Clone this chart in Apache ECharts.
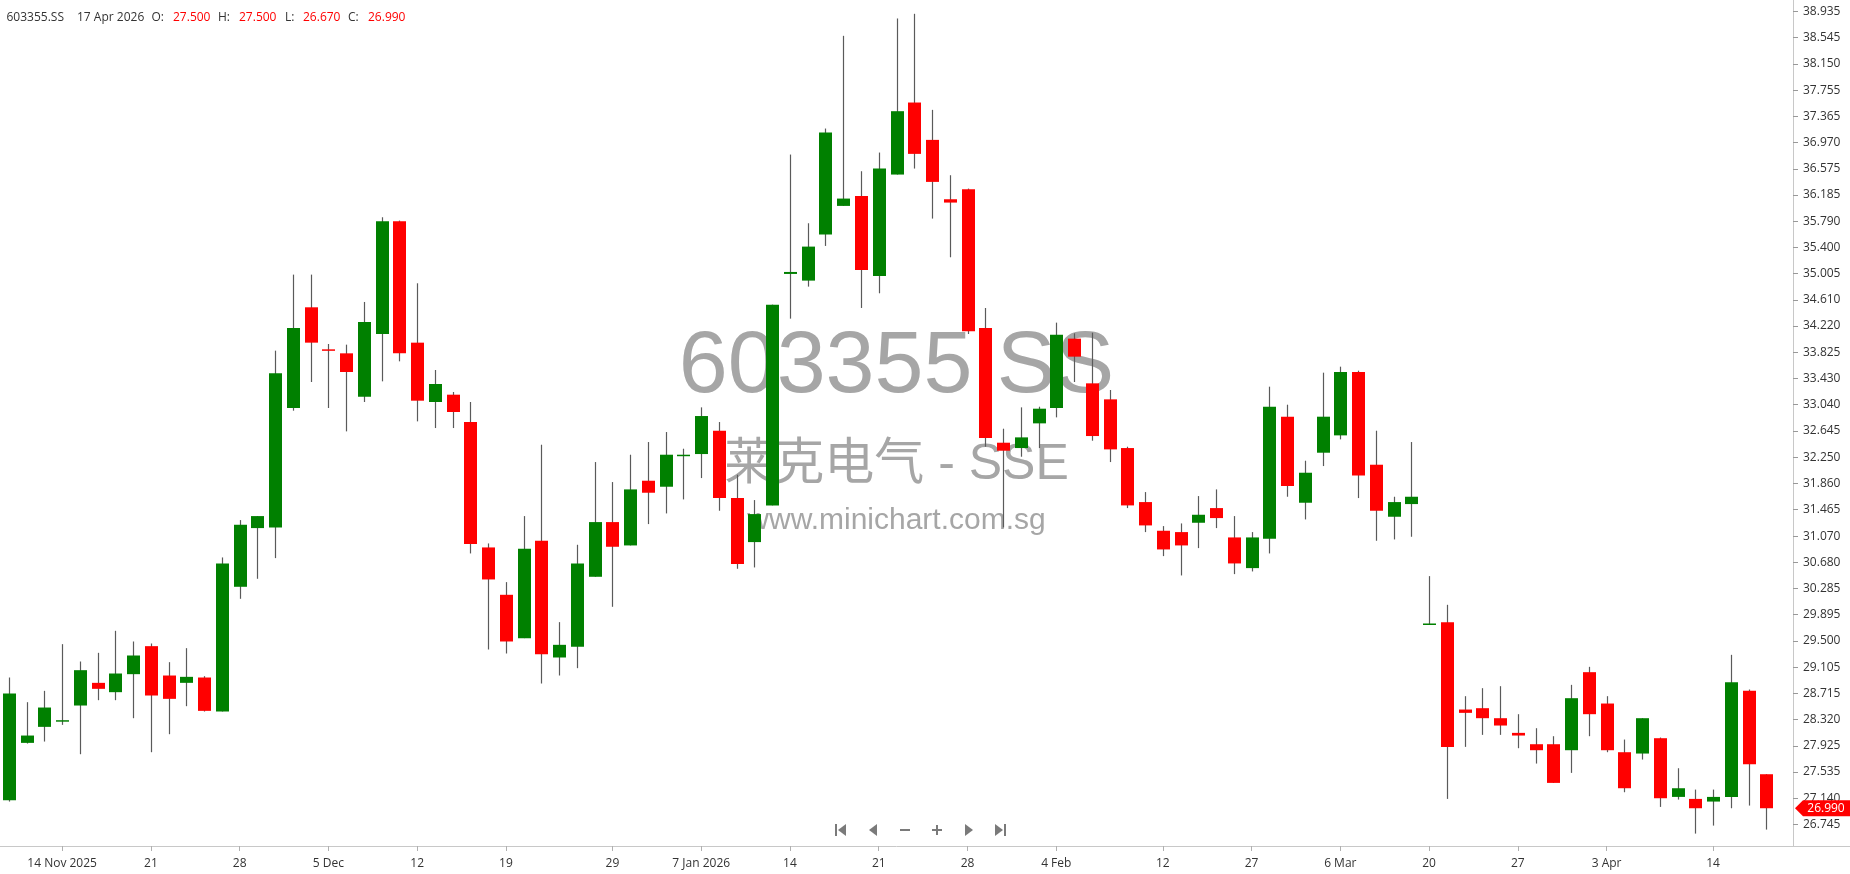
<!DOCTYPE html>
<html><head><meta charset="utf-8">
<script src="https://cdn.jsdelivr.net/npm/echarts@6/dist/echarts.min.js"></script>
<style>html,body{margin:0;padding:0;background:#fff}#c{width:1850px;height:874px}</style>
</head><body><div id="c"></div>
<script>
const ticker = '603355.SS';
const companyName = '莱克电气 - SSE';
const siteName = 'www.minichart.com.sg';

const dates = [
'2025-11-11','2025-11-12','2025-11-13','2025-11-14','2025-11-17','2025-11-18','2025-11-19','2025-11-20','2025-11-21','2025-11-24',
'2025-11-25','2025-11-26','2025-11-27','2025-11-28','2025-12-01','2025-12-02','2025-12-03','2025-12-04','2025-12-05','2025-12-08',
'2025-12-09','2025-12-10','2025-12-11','2025-12-12','2025-12-15','2025-12-16','2025-12-17','2025-12-18','2025-12-19','2025-12-22',
'2025-12-23','2025-12-24','2025-12-25','2025-12-26','2025-12-29','2025-12-30','2025-12-31','2026-01-05','2026-01-06','2026-01-07',
'2026-01-08','2026-01-09','2026-01-12','2026-01-13','2026-01-14','2026-01-15','2026-01-16','2026-01-19','2026-01-20','2026-01-21',
'2026-01-22','2026-01-23','2026-01-26','2026-01-27','2026-01-28','2026-01-29','2026-01-30','2026-02-02','2026-02-03','2026-02-04',
'2026-02-05','2026-02-06','2026-02-09','2026-02-10','2026-02-11','2026-02-12','2026-02-13','2026-02-24','2026-02-25','2026-02-26',
'2026-02-27','2026-03-02','2026-03-03','2026-03-04','2026-03-05','2026-03-06','2026-03-09','2026-03-10','2026-03-11','2026-03-12',
'2026-03-20','2026-03-23','2026-03-24','2026-03-25','2026-03-26','2026-03-27','2026-03-30','2026-03-31','2026-04-01','2026-04-02',
'2026-04-03','2026-04-07','2026-04-08','2026-04-09','2026-04-10','2026-04-13','2026-04-14','2026-04-15','2026-04-16','2026-04-17'
];

const opens = [
27.11,27.97,28.21,28.29,28.53,28.87,28.73,29.00,29.42,28.98,
28.87,28.95,28.44,30.31,31.19,31.20,32.99,34.50,33.87,33.81,
33.16,34.10,35.79,33.97,33.08,33.19,32.78,30.90,30.19,29.54,
31.00,29.25,29.41,30.46,31.28,30.93,31.90,31.81,32.27,32.30,
32.65,31.64,30.98,31.53,35.00,34.90,35.59,36.02,36.17,34.97,
36.49,37.57,37.01,36.12,36.27,34.19,32.47,32.39,32.76,32.99,
34.03,33.36,33.12,32.39,31.58,31.15,31.13,31.27,31.49,31.05,
30.59,31.03,32.86,31.57,32.32,32.58,33.53,32.14,31.36,31.55,
29.75,29.78,28.47,28.49,28.34,28.12,27.95,27.95,27.86,29.03,
28.56,27.83,27.81,28.04,27.16,27.13,27.09,27.16,28.75,27.50
];
const highs = [
28.95,28.58,28.75,29.45,29.19,29.32,29.65,29.49,29.46,29.18,
29.39,28.97,30.75,31.31,31.37,33.85,34.99,34.99,33.95,33.94,
34.58,35.85,35.80,34.86,33.56,33.23,33.08,30.96,30.38,31.37,
32.44,29.78,30.94,32.18,31.88,32.29,32.48,32.63,32.38,33.00,
32.78,31.99,31.61,34.54,36.79,35.76,37.18,38.57,36.54,36.82,
38.83,38.90,37.46,36.48,36.28,34.49,32.68,33.00,33.01,34.27,
34.11,34.12,33.26,32.41,31.73,31.22,31.26,31.67,31.77,31.37,
31.13,33.31,33.04,32.20,33.52,33.61,33.55,32.65,31.66,32.48,
30.47,30.04,28.67,28.79,28.82,28.40,28.19,28.07,28.84,29.11,
28.67,28.02,28.34,28.05,27.59,27.27,27.27,29.29,28.77,27.50
];
const lows = [
27.09,27.96,27.99,28.24,27.80,28.61,28.61,28.34,27.83,28.10,
28.52,28.44,28.44,30.13,30.43,30.74,32.95,33.38,32.99,32.64,
33.08,33.39,33.69,32.79,32.69,32.69,30.81,29.37,29.31,29.54,
28.86,28.98,29.09,30.46,30.01,30.93,31.25,31.41,31.62,31.94,
31.45,30.58,30.60,31.53,34.33,34.81,35.42,36.02,34.49,34.71,
36.49,36.58,35.83,35.25,34.10,32.41,31.20,32.26,32.39,32.85,
33.38,32.50,32.18,31.49,31.13,30.77,30.48,30.89,31.19,30.50,
30.54,30.81,31.66,31.32,32.12,32.52,31.64,31.00,31.02,31.06,
29.75,27.13,27.91,28.09,28.09,27.89,27.66,27.37,27.52,28.07,
27.83,27.23,27.72,27.01,27.12,26.61,26.73,26.99,27.03,26.67
];
const closes = [
28.71,28.08,28.50,28.31,29.06,28.78,29.01,29.28,28.68,28.63,
28.96,28.45,30.66,31.24,31.37,33.51,34.19,33.97,33.85,33.53,
34.28,35.79,33.81,33.10,33.35,32.93,30.95,30.42,29.49,30.88,
29.30,29.44,30.66,31.28,30.91,31.77,31.72,32.29,32.29,32.87,
31.64,30.65,31.40,34.54,35.03,35.41,37.12,36.13,35.06,36.58,
37.44,36.80,36.38,36.07,34.14,32.54,32.35,32.55,32.98,34.09,
33.76,32.57,32.37,31.53,31.23,30.87,30.93,31.39,31.34,30.66,
31.05,33.01,31.82,32.02,32.86,33.53,31.98,31.45,31.58,31.66,
29.76,27.91,28.42,28.34,28.23,28.08,27.86,27.37,28.64,28.40,
27.86,27.29,28.34,27.14,27.29,26.99,27.16,28.88,27.65,26.99
];

const xTickLabels = {
'2025-11-14':'14 Nov 2025','2025-11-21':'21','2025-11-28':'28','2025-12-05':'5 Dec','2025-12-12':'12',
'2025-12-19':'19','2025-12-29':'29','2026-01-07':'7 Jan 2026','2026-01-14':'14','2026-01-21':'21',
'2026-01-28':'28','2026-02-04':'4 Feb','2026-02-12':'12','2026-02-27':'27','2026-03-06':'6 Mar',
'2026-03-20':'20','2026-03-27':'27','2026-04-03':'3 Apr','2026-04-14':'14'
};
const yTickLabels = ['26.745','27.140','27.535','27.925','28.320','28.715','29.105','29.500','29.895','30.285',
'30.680','31.070','31.465','31.860','32.250','32.645','33.040','33.430','33.825','34.220','34.610','35.005',
'35.400','35.790','36.185','36.575','36.970','37.365','37.755','38.150','38.545','38.935'];

const categories = dates.concat(['']);
const yTicks = yTickLabels.map(Number);
const candleData = dates.map((d, i) => [i, opens[i], closes[i], lows[i], highs[i]]);

const chart = echarts.init(document.getElementById('c'), null, {renderer: 'canvas'});
const FONT = '"Open Sans", "Noto Sans", sans-serif';

chart.setOption({
  animation: false,
  backgroundColor: '#ffffff',
  grid: {left: 0, right: 57, top: 0, bottom: 28, containLabel: false, outerBoundsMode: 'none'},
  xAxis: {
    type: 'category', data: categories, boundaryGap: true,
    axisLine: {show: true, lineStyle: {color: '#c8c8c8', width: 1}},
    axisTick: {show: true, alignWithLabel: true, length: 5, interval: (i, v) => !!xTickLabels[v], lineStyle: {color: '#b0b0b0'}},
    axisLabel: {interval: (i, v) => !!xTickLabels[v], formatter: v => xTickLabels[v] || '', color: '#333', fontSize: 12, fontFamily: FONT, margin: 12},
    splitLine: {show: false}
  },
  yAxis: {
    type: 'value', position: 'right', min: 26.424, max: 39.107, scale: true,
    axisLine: {show: true, lineStyle: {color: '#c8c8c8', width: 1}},
    axisTick: {show: true, customValues: yTicks, length: 5, lineStyle: {color: '#999'}},
    axisLabel: {customValues: yTicks, formatter: v => v.toFixed(3), color: '#333', fontSize: 12, fontFamily: FONT, margin: 10},
    splitLine: {show: false}
  },
  series: [{
    type: 'custom', name: ticker,
    data: candleData,
    encode: {x: 0, y: [1, 2, 3, 4]},
    renderItem: function (params, api) {
      const i = api.value(0), o = api.value(1), c = api.value(2), l = api.value(3), h = api.value(4);
      const pO = api.coord([i, o]), pC = api.coord([i, c]), pL = api.coord([i, l]), pH = api.coord([i, h]);
      const bw = Math.round(api.size([1, 0])[0] * 0.73);
      const x = Math.round(pO[0]);
      const top = Math.min(pO[1], pC[1]);
      const bh = Math.max(Math.abs(pO[1] - pC[1]), 1.5);
      const col = c >= o ? '#008000' : '#ff0000';
      return {type: 'group', children: [
        {type: 'line', shape: {x1: x + 0.5, y1: pH[1], x2: x + 0.5, y2: pL[1]}, style: {stroke: '#5a5a5a', lineWidth: 1.2}},
        {type: 'rect', shape: {x: x - bw / 2 + 0.5, y: top, width: bw, height: bh}, style: {fill: col}}
      ]};
    },
    z: 5
  }]
});

// overlay graphics
const last = dates.length - 1;
const mon = ['Jan','Feb','Mar','Apr','May','Jun','Jul','Aug','Sep','Oct','Nov','Dec'];
const ld = dates[last].split('-');
const lastDateText = (+ld[2]) + ' ' + mon[+ld[1] - 1] + ' ' + ld[0];
const py = chart.convertToPixel({yAxisIndex: 0}, closes[last]);
const axisY = chart.convertToPixel({yAxisIndex: 0}, 26.424);

function txt(x, y, s, font, fill, align) {
  return {type: 'text', x: x, y: y, z: 100, style: {text: s, font: font, fill: fill,
    textAlign: align || 'left', align: align || 'left', textVerticalAlign: 'middle', verticalAlign: 'middle'}};
}
const hf = '12px ' + FONT;
const G = '#333';
const R = '#ff0000';
const navY = 830;
const navC = '#7a7a7a';
function tri(cx, dir) {
  return dir < 0 ? [[cx + 4, navY - 6], [cx + 4, navY + 6], [cx - 4, navY]] : [[cx - 4, navY - 6], [cx - 4, navY + 6], [cx + 4, navY]];
}
const graphics = [
  // watermark
  {type: 'text', x: 896.5, y: 368, z: -10, style: {text: ticker, font: '88px "Liberation Sans", Arial, sans-serif', fill: '#a6a6a6', textAlign: 'center', align: 'center', textVerticalAlign: 'middle', verticalAlign: 'middle'}},
  {type: 'text', x: 896.5, y: 465, z: -10, style: {text: companyName, font: '50px "Liberation Sans", "Noto Sans CJK SC", sans-serif', fill: '#a6a6a6', textAlign: 'center', align: 'center', textVerticalAlign: 'middle', verticalAlign: 'middle'}},
  {type: 'text', x: 896.5, y: 521, z: -10, style: {text: siteName, font: '30px "Liberation Sans", Arial, sans-serif', fill: '#a6a6a6', textAlign: 'center', align: 'center', textVerticalAlign: 'middle', verticalAlign: 'middle'}},
  // header
  txt(6.5, 18, ticker, hf, G),
  txt(77, 18, lastDateText, hf, G),
  txt(151.5, 18, 'O:', hf, G),
  txt(173, 18, opens[last].toFixed(3), hf, R),
  txt(218, 18, 'H:', hf, G),
  txt(239, 18, highs[last].toFixed(3), hf, R),
  txt(285, 18, 'L:', hf, G),
  txt(303, 18, lows[last].toFixed(3), hf, R),
  txt(348, 18, 'C:', hf, G),
  txt(368, 18, closes[last].toFixed(3), hf, R),
  // x axis line extension
  {type: 'line', z: 100, shape: {x1: 1793, y1: Math.round(axisY) + 0.5, x2: 1850, y2: Math.round(axisY) + 0.5}, style: {stroke: '#c8c8c8', lineWidth: 1}},
  // last price tag
  {type: 'polygon', z: 100, shape: {points: [[1795, py], [1803, py - 8], [1850, py - 8], [1850, py + 8], [1803, py + 8]]}, style: {fill: '#ff0000'}},
  txt(1826, py, closes[last].toFixed(3), hf, '#ffffff', 'center'),
  // nav buttons
  {type: 'rect', z: 100, shape: {x: 835, y: navY - 6, width: 2, height: 12}, style: {fill: navC}},
  {type: 'polygon', z: 100, shape: {points: tri(842, -1)}, style: {fill: navC}},
  {type: 'polygon', z: 100, shape: {points: tri(873, -1)}, style: {fill: navC}},
  {type: 'rect', z: 100, shape: {x: 900, y: navY - 1, width: 10, height: 2}, style: {fill: navC}},
  {type: 'rect', z: 100, shape: {x: 932, y: navY - 1, width: 10, height: 2}, style: {fill: navC}},
  {type: 'rect', z: 100, shape: {x: 936, y: navY - 5, width: 2, height: 10}, style: {fill: navC}},
  {type: 'polygon', z: 100, shape: {points: tri(969, 1)}, style: {fill: navC}},
  {type: 'polygon', z: 100, shape: {points: tri(999, 1)}, style: {fill: navC}},
  {type: 'rect', z: 100, shape: {x: 1004, y: navY - 6, width: 2, height: 12}, style: {fill: navC}}
];
chart.setOption({graphic: graphics});
</script>
</body></html>
